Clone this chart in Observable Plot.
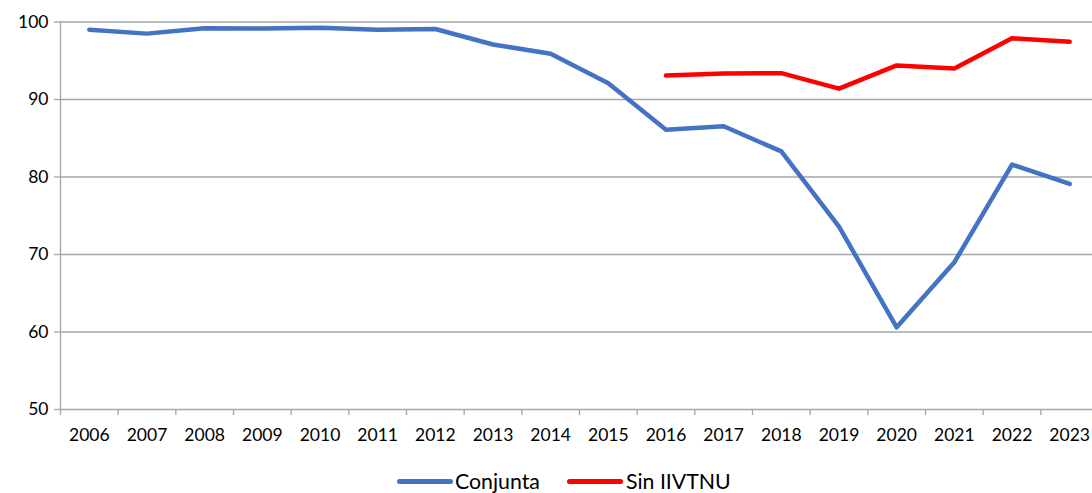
<!DOCTYPE html>
<html><head><meta charset="utf-8">
<script src="https://cdn.jsdelivr.net/npm/d3@7"></script>
<script src="https://cdn.jsdelivr.net/npm/@observablehq/plot@0.6"></script>
<style>
html,body{margin:0;padding:0;background:#fff;overflow:hidden;width:1092px;height:493px}
#chart{position:absolute;left:0;top:0}
.leg{position:absolute;font-family:Lato,sans-serif;font-size:21.3px;color:#000;line-height:1;white-space:nowrap}
.sw{position:absolute;height:4.5px;border-radius:3px}
</style>
</head><body>
<div id="chart"></div>
<div class="sw" style="left:397px;top:479px;width:56px;background:#4472C4"></div>
<div class="leg" style="left:455px;top:471px">Conjunta</div>
<div class="sw" style="left:567px;top:479px;width:56px;background:#FF0000"></div>
<div class="leg" style="left:626px;top:471px">Sin IIVTNU</div>
<script>
const years = [2006,2007,2008,2009,2010,2011,2012,2013,2014,2015,2016,2017,2018,2019,2020,2021,2022,2023];
const conjunta = [99.0,98.5,99.2,99.15,99.25,99.0,99.1,97.1,95.9,92.1,86.1,86.55,83.3,73.6,60.6,69.0,81.6,79.1];
const sinIIVTNU = [null,null,null,null,null,null,null,null,null,null,93.1,93.35,93.4,91.4,94.4,94.0,97.9,97.45];
const yTicks = [50,60,70,80,90,100];

const boundaries = [years[0]-0.5, ...years.map(y => y+0.5)];
const rows1 = years.map((y,i) => ({year:y, v:conjunta[i]}));
const rows2 = years.map((y,i) => ({year:y, v:sinIIVTNU[i]}));

const grid = "#a6a6a6";
const plot = Plot.plot({
  width: 1092,
  height: 450,
  marginLeft: 60,
  marginRight: 0,
  marginTop: 21.5,
  marginBottom: 41,
  style: {fontFamily: "Lato, sans-serif", fontSize: "17.5px", color: "#000", background: "#fff", overflow: "visible"},
  x: {type: "linear", domain: [years[0]-0.5, years[years.length-1]+0.5], range: [60, 1098]},
  y: {domain: [50, 100], range: [409, 21.5]},
  marks: [
    Plot.gridY(yTicks.slice(1), {stroke: grid, strokeOpacity: 1, strokeWidth: 1.3}),
    Plot.ruleY([50], {stroke: grid, strokeWidth: 1.3}),
    Plot.ruleX([years[0]-0.5], {y1: 50, y2: 100, stroke: grid, strokeWidth: 1.3}),
    Plot.axisY(yTicks, {tickSize: 6, tickPadding: 6, stroke: grid, strokeWidth: 1.3, fill: "#000", label: null}),
    Plot.axisX(boundaries, {tickSize: 6, tickFormat: () => "", stroke: grid, strokeWidth: 1.3, label: null}),
    Plot.axisX(years, {tickSize: 0, tickPadding: 19, tickFormat: d => String(d), fill: "#000", label: null}),
    Plot.line(rows1, {x: "year", y: "v", stroke: "#4472C4", strokeWidth: 4.5, strokeLinecap: "round", strokeLinejoin: "round"}),
    Plot.line(rows2, {x: "year", y: "v", stroke: "#FF0000", strokeWidth: 4.5, strokeLinecap: "round", strokeLinejoin: "round"})
  ]
});
document.getElementById("chart").appendChild(plot);
</script>
</body></html>
